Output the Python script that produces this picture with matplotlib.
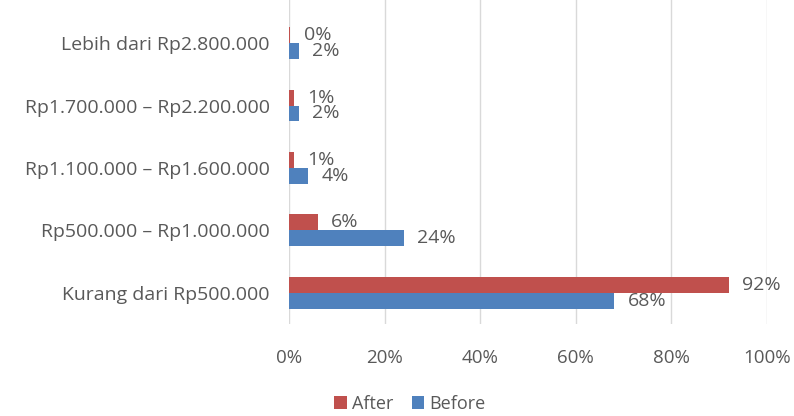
import numpy as np
import matplotlib.pyplot as plt

categories = ["Kurang dari Rp500.000", "Rp500.000 – Rp1.000.000",
              "Rp1.100.000 – Rp1.600.000", "Rp1.700.000 – Rp2.200.000",
              "Lebih dari Rp2.800.000"]
after = [92, 6, 1, 1, 0.3]
after_labels = ["92%", "6%", "1%", "1%", "0%"]
before = [68, 24, 4, 2, 2]
before_labels = ["68%", "24%", "4%", "2%", "2%"]

plt.rcParams['font.family'] = ['Open Sans', 'DejaVu Sans']
gris = '#595959'

fig = plt.figure(figsize=(7.94, 4.16), dpi=100)
ax = fig.add_axes([289/794, 1 - 324/416, (767-289)/794, 324/416])

y = np.arange(len(categories))
h = 0.256
ax.barh(y + h/2, after, height=h, color='#C0504D', label='After')
ax.barh(y - h/2, before, height=h, color='#4F81BD', label='Before')

for i in range(len(categories)):
    ax.text(after[i] + 2.8, y[i] + h/2, after_labels[i], va='center', ha='left',
            fontsize=14, color=gris)
    ax.text(before[i] + 2.8, y[i] - h/2, before_labels[i], va='center', ha='left',
            fontsize=14, color=gris)

ax.set_xlim(0, 100)
ax.set_ylim(-0.5, 4.69)
ax.set_xticks([0, 20, 40, 60, 80, 100])
ax.set_xticklabels(["0%", "20%", "40%", "60%", "80%", "100%"])
ax.set_yticks(y)
ax.set_yticklabels(categories)
ax.tick_params(axis='both', length=0, colors=gris)
ax.tick_params(axis='x', pad=18, labelsize=13.5)
ax.tick_params(axis='y', pad=14, labelsize=14)
ax.grid(axis='x', color='#D9D9D9', linewidth=1)
ax.set_axisbelow(True)
for s in ax.spines.values():
    s.set_visible(False)

handles, labels = ax.get_legend_handles_labels()
fig.legend(handles, labels, loc='center', bbox_to_anchor=(410/794, 1 - 404/416),
           ncol=2, frameon=False, fontsize=13, labelcolor=gris,
           handlelength=0.7, handleheight=0.7, handletextpad=0.3, columnspacing=1.0)

fig.savefig("out.png", dpi=100)
